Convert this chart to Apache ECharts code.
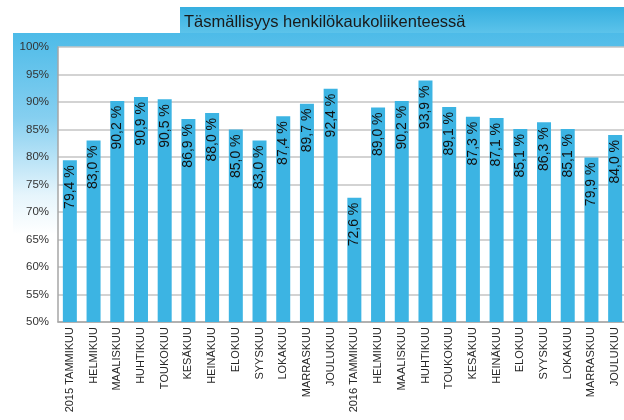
<!DOCTYPE html>
<html>
<head>
<meta charset="utf-8">
<script src="https://cdn.jsdelivr.net/npm/echarts@6/dist/echarts.min.js"></script>
<style>
html,body{margin:0;padding:0;background:#fff;}
#chart{width:624px;height:420px;}
</style>
</head>
<body>
<div id="chart"></div>
<script>
const titleText = "Täsmällisyys henkilökaukoliikenteessä";
const categories = [
  "2015 TAMMIKUU","HELMIKUU","MAALISKUU","HUHTIKUU","TOUKOKUU","KESÄKUU","HEINÄKUU","ELOKUU","SYYSKUU","LOKAKUU","MARRASKUU","JOULUKUU",
  "2016 TAMMIKUU","HELMIKUU","MAALISKUU","HUHTIKUU","TOUKOKUU","KESÄKUU","HEINÄKUU","ELOKUU","SYYSKUU","LOKAKUU","MARRASKUU","JOULUKUU"
];
const values2015 = [79.4, 83.0, 90.2, 90.9, 90.5, 86.9, 88.0, 85.0, 83.0, 87.4, 89.7, 92.4];
const values2016 = [72.6, 89.0, 90.2, 93.9, 89.1, 87.3, 87.1, 85.1, 86.3, 85.1, 79.9, 84.0];
const yMin = 50, yMax = 100, yStep = 5;

const values = values2015.concat(values2016);
const chart = echarts.init(document.getElementById('chart'), null, {renderer:'canvas'});
chart.setOption({
  animation: false,
  textStyle: {fontFamily: 'Liberation Sans, Arial, sans-serif'},
  graphic: [
    {type:'rect', z:-10, shape:{x:13,y:33,width:611,height:387},
     style:{fill:new echarts.graphic.LinearGradient(0,0,0,1,[
       {offset:0,color:'#4dbbe8'},{offset:0.22,color:'#86cff0'},{offset:0.42,color:'#e6f5fc'},{offset:0.52,color:'#ffffff'},{offset:1,color:'#ffffff'}])}},
    {type:'rect', z:-9, shape:{x:180,y:7,width:444,height:26},
     style:{fill:new echarts.graphic.LinearGradient(0,0,0,1,[
       {offset:0,color:'#36afe0'},{offset:1,color:'#5cc3ea'}])}},
    {type:'text', z:10, x:184, y:22,
     style:{text:titleText, fill:'#1a1a1a', font:'16.5px "Liberation Sans", Arial, sans-serif', verticalAlign:'middle'}}
  ],
  grid: {left:58, top:47, right:-3, bottom:98, show:true, backgroundColor:'#ffffff', borderWidth:0, containLabel:false, outerBoundsMode:'none'},
  xAxis: {
    type:'category', data: categories,
    axisLine:{show:true, lineStyle:{color:'#a6a6a6', width:1.5}},
    axisTick:{show:false},
    axisLabel:{rotate:90, interval:0, fontSize:11, color:'#262626', margin:5}
  },
  yAxis: {
    type:'value', min:yMin, max:yMax, interval:yStep,
    axisLine:{show:true, lineStyle:{color:'#a6a6a6', width:1.5}},
    axisTick:{show:false},
    splitLine:{show:true, lineStyle:{color:'#c4c4c4', width:1.5}},
    axisLabel:{formatter:'{value}%', fontSize:11.5, color:'#333', margin:9}
  },
  series: [{
    type:'bar', data: values, barWidth:14,
    itemStyle:{color:'#3cb4e3'},
    label:{show:true, position:'insideTop', rotate:90, align:'right', verticalAlign:'middle', distance:5,
      fontSize:14, color:'#111',
      formatter: p => p.value.toFixed(1).replace('.', ',') + ' %'}
  }]
});
</script>
</body>
</html>
